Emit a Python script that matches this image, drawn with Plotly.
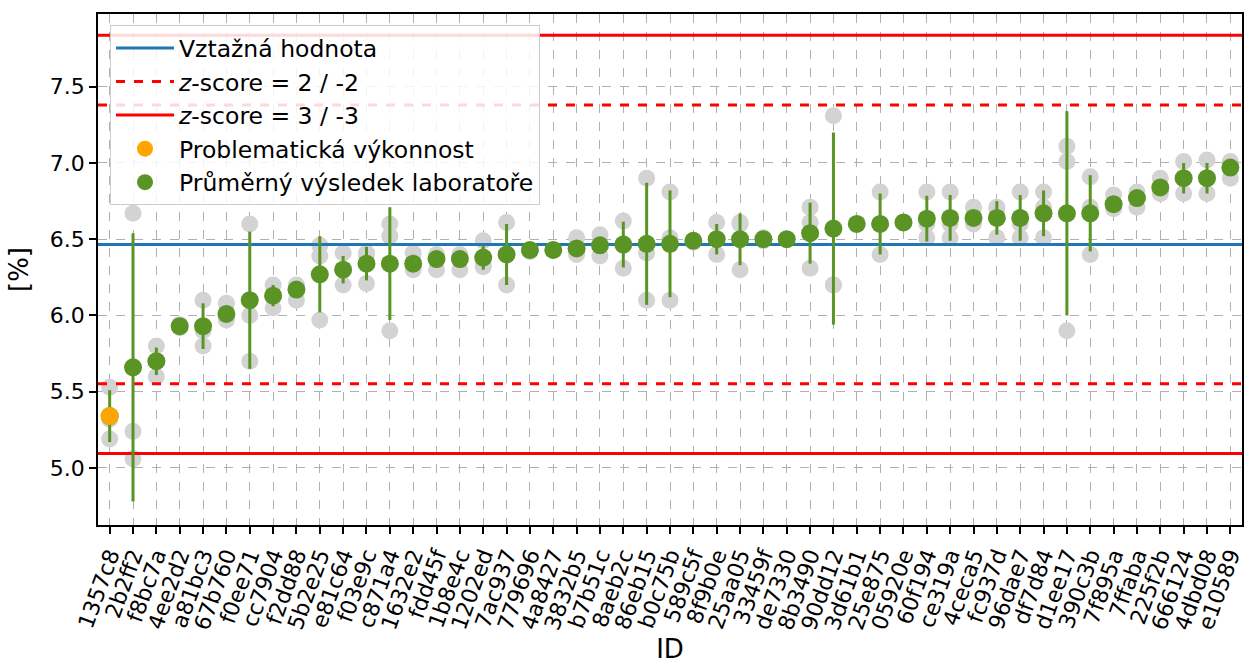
import plotly.graph_objects as go

labs = ["1357c8", "2b2ff2", "f8bc7a", "4ee2d2", "a81bc3", "67b760", "f0ee71", "cc7904",
        "f2dd88", "5b2e25", "e81c64", "f03e9c", "c871a4", "1632e2", "fdd45f", "1b8e4c",
        "1202ed", "7ac937", "779696", "4a8427", "3832b5", "b7b51c", "8aeb2c", "86eb15",
        "b0c75b", "589c5f", "8f9b0e", "25aa05", "33459f", "de7330", "8b3490", "90dd12",
        "3d61b1", "25e875", "05920e", "60f194", "ce319a", "4ceca5", "fc937d", "96dae7",
        "df7d84", "d1ee17", "390c3b", "7f895a", "7ffaba", "225f2b", "666124", "4dbd08",
        "e10589"]

means = [5.34, 5.66, 5.70, 5.93, 5.93, 6.01, 6.10, 6.13, 6.17, 6.27, 6.30, 6.34, 6.34,
         6.34, 6.37, 6.37, 6.38, 6.40, 6.43, 6.43, 6.44, 6.46, 6.465, 6.47, 6.47, 6.49,
         6.50, 6.50, 6.50, 6.50, 6.54, 6.57, 6.60, 6.60, 6.61, 6.635, 6.64, 6.64, 6.64,
         6.64, 6.67, 6.67, 6.67, 6.73, 6.77, 6.84, 6.90, 6.90, 6.97]

errs = [0.17, 0.88, 0.09, 0.01, 0.15, 0.05, 0.45, 0.07, 0.03, 0.25, 0.09, 0.11, 0.37,
        0.02, 0.02, 0.02, 0.08, 0.20, 0.01, 0.01, 0.03, 0.03, 0.15, 0.40, 0.35, 0.01,
        0.10, 0.17, 0.02, 0.01, 0.20, 0.63, 0.01, 0.20, 0.01, 0.15, 0.15, 0.03, 0.11,
        0.15, 0.15, 0.67, 0.25, 0.03, 0.03, 0.03, 0.10, 0.10, 0.04]

rep1 = [5.53, 6.67, 5.80, 5.94, 6.10, 6.08, 6.60, 6.20, 6.20, 6.46, 6.41, 6.41, 6.60,
        6.41, 6.40, 6.40, 6.49, 6.61, 6.43, 6.43, 6.51, 6.53, 6.62, 6.90, 6.81, 6.49,
        6.61, 6.61, 6.51, 6.50, 6.71, 7.31, 6.60, 6.81, 6.61, 6.81, 6.81, 6.71, 6.71,
        6.81, 6.81, 7.11, 6.91, 6.79, 6.81, 6.90, 7.01, 7.02, 7.01]
rep2 = [5.32, 5.24, 5.70, 5.92, 5.90, 5.98, 6.00, 6.12, 6.19, 6.39, 6.30, 6.40, 6.52,
        6.32, 6.38, 6.38, 6.33, 6.40, 6.42, 6.43, 6.42, 6.46, 6.47, 6.41, 6.51, 6.48,
        6.50, 6.60, 6.49, 6.50, 6.61, 6.20, 6.60, 6.60, 6.61, 6.60, 6.60, 6.62, 6.70,
        6.60, 6.71, 7.01, 6.71, 6.71, 6.78, 6.81, 6.90, 6.90, 7.00]
rep3 = [5.19, 5.06, 5.60, None, 5.80, 5.97, 5.70, 6.05, 6.10, 5.97, 6.20, 6.21, 5.90,
        6.30, 6.30, 6.30, 6.32, 6.20, None, None, 6.40, 6.39, 6.31, 6.10, 6.10, None,
        6.40, 6.30, None, None, 6.31, 6.20, None, 6.40, None, 6.51, 6.51, 6.60, 6.51,
        6.51, 6.51, 5.90, 6.40, 6.70, 6.71, 6.80, 6.80, 6.80, 6.90]

problem_labs = ["1357c8"]

ref_value = 6.466
sigma = 0.457

GREEN = "#5a9425"
FONT = "DejaVu Sans"
FS = 22

x_idx = list(range(len(labs)))
xr = [-0.5, len(labs) - 0.5]

fig = go.Figure()

# individual replicate results
gx, gy = [], []
for reps in (rep1, rep2, rep3):
    for i, v in enumerate(reps):
        if v is not None:
            gx.append(i)
            gy.append(v)
fig.add_trace(go.Scatter(x=gx, y=gy, mode="markers", showlegend=False,
                         marker=dict(color="#d3d3d3", size=17, line=dict(width=0)),
                         hoverinfo="skip"))

# reference & limit lines
fig.add_trace(go.Scatter(x=xr, y=[ref_value] * 2, mode="lines", name="Vztažná hodnota",
                         line=dict(color="#1f77b4", width=3), legendrank=1))
fig.add_trace(go.Scatter(x=xr, y=[ref_value + 2 * sigma] * 2, mode="lines",
                         name="<i>z</i>-score = 2 / -2",
                         line=dict(color="#ff0000", width=3, dash="dash"), legendrank=2,
                         legendgroup="z2"))
fig.add_trace(go.Scatter(x=xr, y=[ref_value - 2 * sigma] * 2, mode="lines",
                         showlegend=False, legendgroup="z2",
                         line=dict(color="#ff0000", width=3, dash="dash")))
fig.add_trace(go.Scatter(x=xr, y=[ref_value + 3 * sigma] * 2, mode="lines",
                         name="<i>z</i>-score = 3 / -3",
                         line=dict(color="#ff0000", width=3), legendrank=3, legendgroup="z3"))
fig.add_trace(go.Scatter(x=xr, y=[ref_value - 3 * sigma] * 2, mode="lines",
                         showlegend=False, legendgroup="z3",
                         line=dict(color="#ff0000", width=3)))

# lab means with error bars
fig.add_trace(go.Scatter(x=x_idx, y=means, mode="markers",
                         name="Průměrný výsledek laboratoře", legendrank=5,
                         marker=dict(color=GREEN, size=18, line=dict(width=0)),
                         error_y=dict(type="data", array=errs, visible=True,
                                      color=GREEN, thickness=3, width=0)))

# problematic performance
px = [labs.index(l) for l in problem_labs]
py = [means[i] for i in px]
fig.add_trace(go.Scatter(x=px, y=py, mode="markers", name="Problematická výkonnost",
                         legendrank=4,
                         marker=dict(color="#ffa500", size=18, line=dict(width=0))))

fig.update_layout(
    width=1251, height=664, autosize=False,
    margin=dict(l=98, r=9, t=14, b=139),
    plot_bgcolor="white", paper_bgcolor="white",
    font=dict(family=FONT, size=FS, color="black"),
    legend=dict(x=0.0105, y=0.978, xanchor="left", yanchor="top",
                bgcolor="rgba(255,255,255,0.85)", bordercolor="#cccccc", borderwidth=1,
                font=dict(family=FONT, size=23.5), traceorder="normal",
                itemwidth=58),
    xaxis=dict(range=xr, tickmode="array", tickvals=x_idx, ticktext=labs,
               tickangle=-70, showline=True, linecolor="black", linewidth=1.5,
               mirror=True, ticks="outside", ticklen=7, tickwidth=1.5,
               tickcolor="black", showgrid=True, gridcolor="#b0b0b0",
               griddash="dash", gridwidth=1, zeroline=False, automargin=False,
               title=dict(text="ID", standoff=14), tickfont=dict(size=FS)),
    yaxis=dict(range=[4.626, 7.977], tickmode="array",
               tickvals=[5.0, 5.5, 6.0, 6.5, 7.0, 7.5],
               ticktext=["5.0", "5.5", "6.0", "6.5", "7.0", "7.5"],
               showline=True, linecolor="black", linewidth=1.5, mirror=True,
               ticks="outside", ticklen=7, tickwidth=1.5, tickcolor="black",
               showgrid=True, gridcolor="#b0b0b0", griddash="dash", gridwidth=1,
               zeroline=False, automargin=False, title=dict(text="[%]", standoff=14),
               tickfont=dict(size=FS)),
)

fig.write_html("out.html", config={"displayModeBar": False},
               post_script="document.body.style.margin='0';document.body.style.padding='0';")
